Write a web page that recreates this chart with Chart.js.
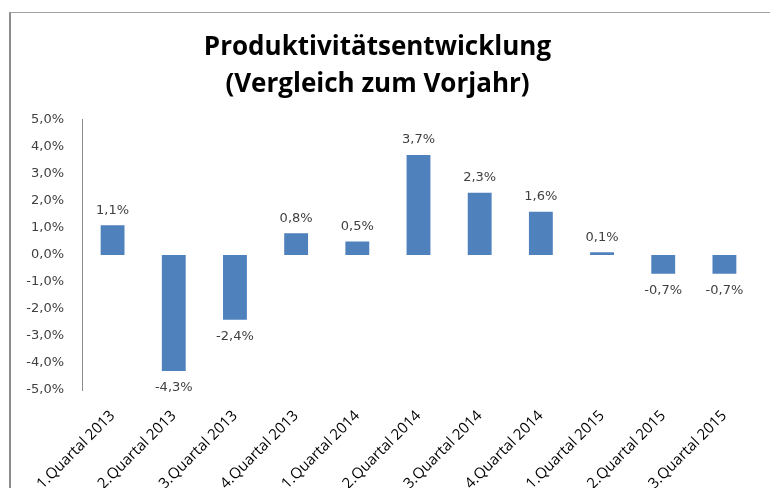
<!DOCTYPE html>
<html>
<head>
<meta charset="utf-8">
<script src="https://cdn.jsdelivr.net/npm/chart.js@4.4.1/dist/chart.umd.min.js"></script>
<style>
    html, body { margin: 0; padding: 0; background: #fff; }
    #wrap { position: relative; width: 770px; height: 488px; overflow: hidden; }
    #frame { position: absolute; left: 9px; top: 12px; width: 770px; height: 490px;
             border-top: 1px solid #a0a0a0; border-left: 2px solid #8c8c8c; pointer-events: none; }
    canvas { position: absolute; left: 0; top: 0; }
</style>
</head>
<body>
<div id="wrap">
    <canvas id="chart-prod" width="770" height="488"></canvas>
    <div id="frame"></div>
</div>
<script>
// 數據
const quarterLabels = [
    "1.Quartal 2013", "2.Quartal 2013", "3.Quartal 2013", "4.Quartal 2013",
    "1.Quartal 2014", "2.Quartal 2014", "3.Quartal 2014", "4.Quartal 2014",
    "1.Quartal 2015", "2.Quartal 2015", "3.Quartal 2015"
];
const productivityValues = [1.1, -4.3, -2.4, 0.8, 0.5, 3.7, 2.3, 1.6, 0.1, -0.7, -0.7];
const titleLines = ["Produktivitätsentwicklung", "(Vergleich zum Vorjahr)"];

const fmtPct = v => v.toFixed(1).replace(".", ",") + "%";

// 柱頂數值標籤
const barValueLabels = {
    id: "barValueLabels",
    afterDatasetsDraw(chart) {
        const ctx = chart.ctx;
        const meta = chart.getDatasetMeta(0);
        ctx.save();
        ctx.font = "13px 'DejaVu Sans'";
        ctx.fillStyle = "#404040";
        ctx.textAlign = "center";
        ctx.textBaseline = "middle";
        meta.data.forEach((bar, i) => {
            const v = productivityValues[i];
            const y = v >= 0 ? bar.y - 15 : bar.y + 17;
            ctx.fillText(fmtPct(v), bar.x, y);
        });
        ctx.restore();
    }
};

const ctx = document.getElementById("chart-prod").getContext("2d");
new Chart(ctx, {
    type: "bar",
    data: {
        labels: quarterLabels,
        datasets: [{
            data: productivityValues,
            backgroundColor: "#4f81bd",
            borderWidth: 0,
            barPercentage: 0.39,
            categoryPercentage: 1.0
        }]
    },
    options: {
        responsive: false,
        animation: false,
        layout: { padding: { left: 0, right: 15, top: 0, bottom: 0 } },
        plugins: {
            legend: { display: false },
            tooltip: { enabled: false },
            title: {
                display: true,
                text: titleLines,
                color: "#000",
                font: { family: "'Open Sans'", size: 26, weight: "bold", lineHeight: 1.42 },
                padding: { top: 29, bottom: 17 }
            }
        },
        scales: {
            x: {
                grid: { display: false },
                border: { display: false },
                ticks: {
                    color: "#000",
                    font: { family: "'Open Sans'", size: 15 },
                    minRotation: 45,
                    maxRotation: 45,
                    autoSkip: false,
                    padding: 9
                },
                afterFit(scale) { scale.height = 98; }
            },
            y: {
                min: -5,
                max: 5,
                grid: { display: false, drawTicks: false },
                border: { display: true, color: "#8c8c8c", width: 1 },
                ticks: {
                    stepSize: 1,
                    color: "#404040",
                    font: { family: "'DejaVu Sans'", size: 13 },
                    padding: 18,
                    callback: v => fmtPct(v)
                },
                afterFit(scale) { scale.width = 82; }
            }
        }
    },
    plugins: [barValueLabels]
});
</script>
</body>
</html>
